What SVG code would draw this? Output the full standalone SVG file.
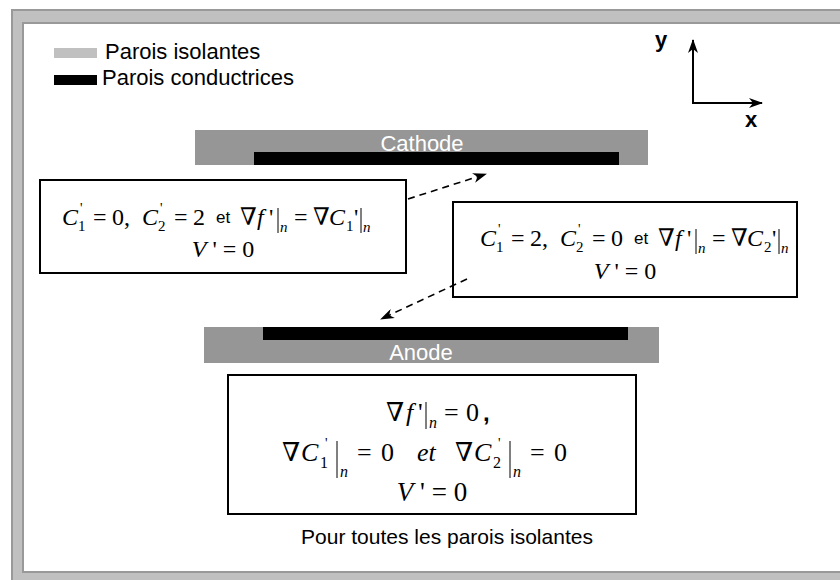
<svg xmlns="http://www.w3.org/2000/svg" width="840" height="580" viewBox="0 0 840 580">
<defs>
<style>
.sans{font-family:"Liberation Sans",Arial,sans-serif}
.m{font-family:"Liberation Serif","Times New Roman","DejaVu Serif",serif;font-size:24px;fill:#000}
.m26{font-size:26px}
.i{font-style:italic}
.sb{font-size:15px}
.sb2{font-size:16px}
.pr{font-size:14px}
.bar{stroke:#000;stroke-width:1}
.box{fill:#fff;stroke:#000;stroke-width:2}
.dash{fill:none;stroke:#000;stroke-width:1.6;stroke-dasharray:7 5}
.ax{fill:none;stroke:#000;stroke-width:2}
.wall{fill:#969696}
.cond{fill:#000}
.wl{font-family:"Liberation Sans",Arial,sans-serif;font-size:22px;fill:#fff;text-anchor:middle}
</style>
<marker id="ah" markerWidth="14" markerHeight="10" refX="13" refY="5" orient="auto" markerUnits="userSpaceOnUse">
<path d="M0,0 L14,5 L0,10 L4,5 z" fill="#000"/>
</marker>
</defs>

<g id="frame">
<rect x="12" y="10" width="850" height="600" fill="#c0c0c0" stroke="#999" stroke-width="2"/>
<rect x="23" y="23" width="840" height="549" fill="#fff" stroke="#999" stroke-width="2"/>
</g>

<g id="legend">
<rect x="54" y="48" width="43" height="10" fill="#c0c0c0"/>
<text class="sans" x="105" y="59" font-size="22">Parois isolantes</text>
<rect x="54" y="75" width="43" height="10" fill="#000"/>
<text class="sans" x="102" y="85" font-size="22">Parois conductrices</text>
</g>

<g id="axes">
<line class="ax" x1="693" y1="103" x2="693" y2="40" marker-end="url(#ah)"/>
<line class="ax" x1="692" y1="103" x2="762" y2="103" marker-end="url(#ah)"/>
<text class="sans" x="655" y="47" font-size="22" font-weight="bold">y</text>
<text class="sans" x="745" y="127" font-size="22" font-weight="bold">x</text>
</g>

<g id="cathode">
<rect class="wall" x="195" y="130" width="453" height="35"/>
<rect class="cond" x="254" y="152" width="365" height="13"/>
<text class="wl" x="422" y="151">Cathode</text>
</g>

<g id="anode">
<rect class="wall" x="204" y="327" width="455" height="36"/>
<rect class="cond" x="263" y="327" width="365" height="13"/>
<text class="wl" x="421" y="360">Anode</text>
</g>

<g id="box1">
<rect class="box" x="40" y="180" width="366" height="93"/>
<g transform="translate(62,225)">
<text class="m">
<tspan class="i" x="0" y="0">C</tspan><tspan class="sb" x="16" y="6">1</tspan><tspan class="pr" x="18" y="-12">'</tspan>
<tspan x="31" y="0">=</tspan><tspan x="50" y="0">0,</tspan>
<tspan class="i" x="80" y="0">C</tspan><tspan class="sb" x="96" y="6">2</tspan><tspan class="pr" x="98" y="-12">'</tspan>
<tspan x="112" y="0">=</tspan><tspan x="131" y="0">2</tspan>
<tspan x="178" y="0">∇</tspan><tspan class="i" x="195" y="0">f</tspan><tspan x="207" y="0">'</tspan>
<tspan class="sb i" x="218" y="7">n</tspan>
<tspan x="232" y="0">=</tspan><tspan x="251" y="0">∇</tspan><tspan class="i" x="267" y="0">C</tspan><tspan class="sb" x="284" y="6">1</tspan><tspan x="292" y="0">'</tspan>
<tspan class="sb i" x="301" y="7">n</tspan>
</text>
<text class="sans" x="154" y="-2" font-size="17">et</text>
<line class="bar" x1="216" y1="-17" x2="216" y2="8"/>
<line class="bar" x1="299" y1="-17" x2="299" y2="8"/>
</g>
<text class="m" x="223" y="257" text-anchor="middle"><tspan class="i">V</tspan> ' = 0</text>
</g>

<g id="box2">
<rect class="box" x="453" y="202" width="344" height="95"/>
<g transform="translate(480,246)">
<text class="m">
<tspan class="i" x="0" y="0">C</tspan><tspan class="sb" x="16" y="6">1</tspan><tspan class="pr" x="18" y="-12">'</tspan>
<tspan x="31" y="0">=</tspan><tspan x="50" y="0">2,</tspan>
<tspan class="i" x="80" y="0">C</tspan><tspan class="sb" x="96" y="6">2</tspan><tspan class="pr" x="98" y="-12">'</tspan>
<tspan x="112" y="0">=</tspan><tspan x="131" y="0">0</tspan>
<tspan x="178" y="0">∇</tspan><tspan class="i" x="195" y="0">f</tspan><tspan x="207" y="0">'</tspan>
<tspan class="sb i" x="218" y="7">n</tspan>
<tspan x="232" y="0">=</tspan><tspan x="251" y="0">∇</tspan><tspan class="i" x="267" y="0">C</tspan><tspan class="sb" x="284" y="6">2</tspan><tspan x="292" y="0">'</tspan>
<tspan class="sb i" x="301" y="7">n</tspan>
</text>
<text class="sans" x="154" y="-2" font-size="17">et</text>
<line class="bar" x1="216" y1="-17" x2="216" y2="8"/>
<line class="bar" x1="299" y1="-17" x2="299" y2="8"/>
</g>
<text class="m" x="625" y="279" text-anchor="middle"><tspan class="i">V</tspan> ' = 0</text>
</g>

<g id="box3">
<rect class="box" x="228" y="375" width="408" height="139"/>
<g transform="translate(386,421)">
<text class="m m26">
<tspan x="0" y="0">∇</tspan><tspan class="i" x="20" y="0">f</tspan><tspan x="32" y="0">'</tspan>
<tspan class="sb2 i" x="43" y="7">n</tspan>
<tspan x="58" y="0">=</tspan><tspan x="80" y="0">0</tspan>
</text>
<text class="sans" x="97" y="0" font-size="24" font-weight="bold">,</text>
<line class="bar" x1="40" y1="-19" x2="40" y2="8"/>
</g>
<g transform="translate(282,461)">
<text class="m m26">
<tspan x="0" y="0">∇</tspan><tspan class="i" x="19" y="0">C</tspan><tspan class="sb2" x="38" y="7">1</tspan><tspan class="pr" x="43" y="-13">'</tspan>
<tspan class="sb2 i" x="58" y="16">n</tspan>
<tspan x="75" y="0">=</tspan><tspan x="99" y="0">0</tspan>
<tspan class="i" x="135" y="0">et</tspan>
<tspan x="173" y="0">∇</tspan><tspan class="i" x="192" y="0">C</tspan><tspan class="sb2" x="211" y="7">2</tspan><tspan class="pr" x="216" y="-13">'</tspan>
<tspan class="sb2 i" x="231" y="16">n</tspan>
<tspan x="248" y="0">=</tspan><tspan x="272" y="0">0</tspan>
</text>
<line class="bar" x1="55" y1="-20" x2="55" y2="17"/>
<line class="bar" x1="228" y1="-20" x2="228" y2="17"/>
</g>
<text class="m" x="432" y="501" style="font-size:27px" text-anchor="middle"><tspan class="i">V</tspan> ' = 0</text>
</g>

<g id="caption">
<text class="sans" x="447" y="544" font-size="21" text-anchor="middle">Pour toutes les parois isolantes</text>
</g>

<g id="connectors">
<line class="dash" x1="408" y1="199" x2="486" y2="174" marker-end="url(#ah)"/>
<line class="dash" x1="467" y1="279" x2="381" y2="319" marker-end="url(#ah)"/>
</g>
</svg>
